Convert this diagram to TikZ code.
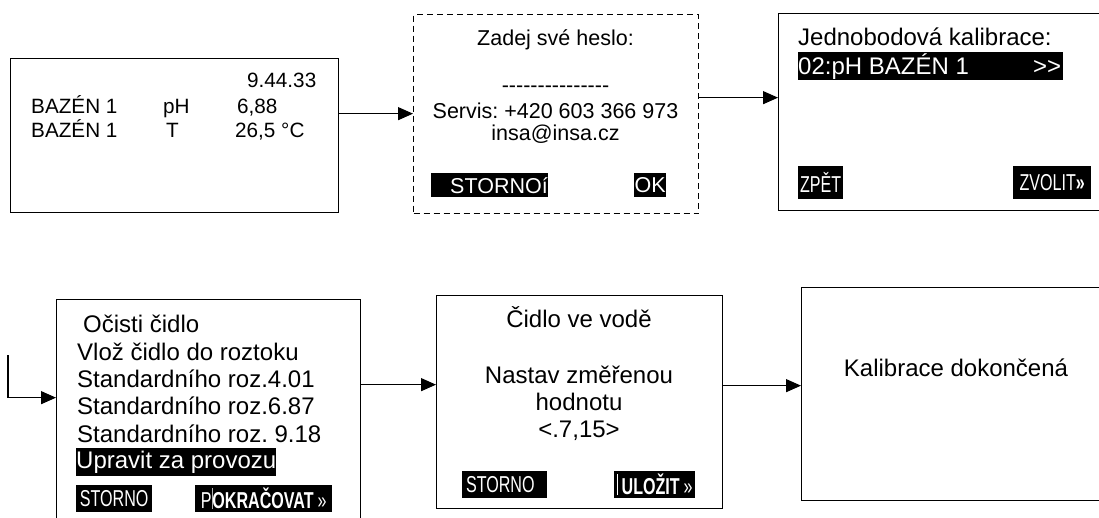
\documentclass[tikz,border=0pt]{standalone}
\usepackage{fontspec}
\setmainfont{Liberation Sans}
\newfontfamily\narrowfont[FakeStretch=0.7]{Liberation Sans}
\usetikzlibrary{arrows.meta}
\frenchspacing
\newcommand\homesize{\fontsize{20.7pt}{24pt}\selectfont}
\newcommand\passsize{\fontsize{21.5pt}{25pt}\selectfont}
\newcommand\screensize{\fontsize{24pt}{27.6pt}\selectfont}
\newcommand\btnsize{\narrowfont\fontsize{23pt}{26pt}\selectfont}
\newcommand\dashrow{\foreach\d in {1,...,15}{-\kern0pt}}
\tikzset{
  screen/.style={draw, line width=1.3pt, anchor=north west, inner sep=0pt},
  dashscreen/.style={screen, dash pattern=on 6pt off 4pt},
  ltxt/.style={anchor=base west, inner sep=0pt},
  ctxt/.style={anchor=base, inner sep=0pt},
  btn/.style={fill=black, text=white, inner sep=0pt, anchor=north west, font=\btnsize},
  flow/.style={line width=1.2pt, -{Triangle[length=15pt,width=13pt]}}
}

\begin{document}
\begin{tikzpicture}[x=1pt,y=-1pt]
\useasboundingbox (0,0) rectangle (1099,517);
\clip (0,0) rectangle (1099,517);

% Home screen
\node[screen, minimum width=328pt, minimum height=154pt] (home) at (10,58) {};
\node[ltxt, font=\homesize] (clock) at (247,87) {9.44.33};
\node[ltxt, font=\homesize] (poolA) at (31,113) {BAZÉN 1};
\node[ltxt, font=\homesize] (phname) at (163,113) {pH};
\node[ltxt, font=\homesize] (phvalue) at (237,113) {6,88};
\node[ltxt, font=\homesize] (poolB) at (31,137) {BAZÉN 1};
\node[ltxt, font=\homesize] (tname) at (166,137) {T};
\node[ltxt, font=\homesize] (tvalue) at (235,137) {26,5 °C};

% Password screen
\node[dashscreen, minimum width=285pt, minimum height=199pt] (pass) at (413,14) {};
\node[ctxt, font=\passsize] (passtitle) at (555.5,45) {Zadej své heslo:};
\node[ctxt, font=\passsize] (passfield) at (555.5,92) {\dashrow};
\node[ctxt, font=\passsize] (service) at (555.5,118) {Servis: +420 603 366 973};
\node[ctxt, font=\passsize] (mail) at (555.5,140) {insa@insa.cz};
\node[btn, font=\passsize, anchor=north east, minimum height=24pt] (passcancel) at (548,173) {\hspace*{19pt}STORNOí};
\node[btn, font=\passsize, minimum width=32pt, minimum height=24pt] (passok) at (634,173) {OK};

% Menu screen
\node[screen, minimum width=335pt, minimum height=197pt] (menu) at (778,13) {};
\node[ltxt, font=\screensize] (menutitle) at (798,45) {Jednobodová kalibrace:};
\node[btn, font=\screensize, minimum height=28pt] (menuitem) at (798,52) {\makebox[265pt][l]{02:pH BAZÉN 1\hfill>\kern0pt>\hspace{2pt}}};
\node[btn, minimum width=45pt, minimum height=33pt] (menuback) at (798,166) {ZPĚT};
\node[btn, minimum width=78pt, minimum height=33pt] (menuselect) at (1013,166) {ZVOLIT\textbf{»}};

% Steps screen
\node[screen, minimum width=304pt, minimum height=240pt] (steps) at (56,299) {};
\node[ltxt, font=\screensize] (clean) at (83,332) {Očisti čidlo};
\node[ltxt, font=\screensize] (insert) at (77,360) {Vlož čidlo do roztoku};
\node[ltxt, font=\screensize] (bufA) at (77,387) {Standardního roz.4.01};
\node[ltxt, font=\screensize] (bufB) at (77,414) {Standardního roz.6.87};
\node[ltxt, font=\screensize] (bufC) at (77,442) {Standardního roz. 9.18};
\node[btn, font=\screensize, minimum height=28pt] (adjust) at (76,448) {Upravit za provozu};
\node[btn, minimum width=76pt, minimum height=27pt] (stepscancel) at (76,485) {STORNO};
\node[btn, minimum width=137pt, minimum height=27pt] (stepsnext) at (195,485) {P\textcolor{gray!60}{\vrule width 0.8pt}\textbf{OKRAČOVAT}\,»};

% Probe screen
\node[screen, minimum width=286pt, minimum height=213pt] (probe) at (436,295) {};
\node[ctxt, font=\screensize] (inwater) at (579,327) {Čidlo ve vodě};
\node[ctxt, font=\screensize] (setA) at (579,383) {Nastav změřenou};
\node[ctxt, font=\screensize] (setB) at (579,410) {hodnotu};
\node[ctxt, font=\screensize] (range) at (579,437) {<.7,15>};
\node[btn, minimum height=27pt] (probecancel) at (462,471) {\makebox[85pt][l]{\,STORNO}};
\node[btn, minimum width=81pt, minimum height=27pt] (probesave) at (614,471) {\textcolor{white}{\vrule width 1pt}\,\textbf{ULOŽIT}\,»};

% Done screen
\node[screen, minimum width=310pt, minimum height=213pt] (done) at (801,287) {};
\node[ctxt, font=\screensize] (finished) at (956,376) {Kalibrace dokončená};

% Flow
\draw[flow] ([yshift=22pt]home.east) coordinate (fa) -- (fa -| pass.west);
\draw[flow] ([yshift=16.5pt]pass.east) coordinate (fb) -- (fb -| menu.west);
\coordinate (entry) at (8,355);
\draw[flow] (entry) |- ([yshift=22pt]steps.west);
\draw[flow] ([yshift=35pt]steps.east) coordinate (fc) -- (fc -| probe.west);
\draw[flow] ([yshift=16.5pt]probe.east) coordinate (fd) -- (fd -| done.west);
\end{tikzpicture}
\end{document}
